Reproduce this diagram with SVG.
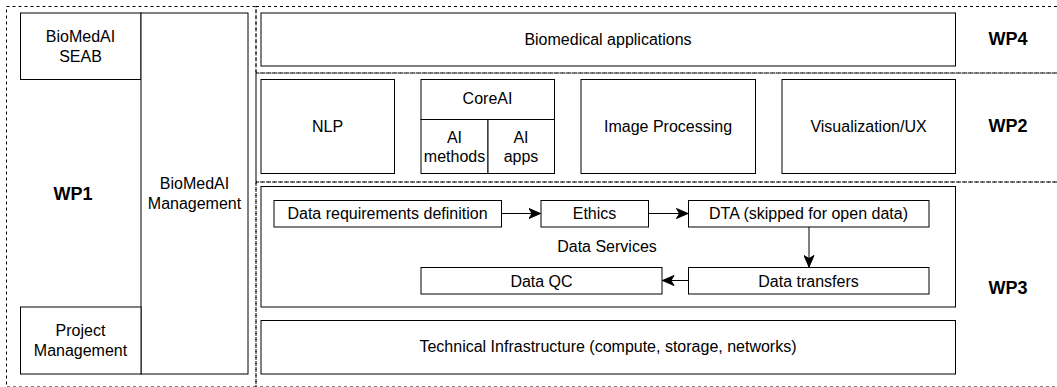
<svg xmlns="http://www.w3.org/2000/svg" width="1057" height="387" viewBox="0 0 1057 387">
<style>
.box{fill:#fff;stroke:#000;stroke-width:1}
.dash{fill:none;stroke:#000;stroke-width:1;stroke-dasharray:3 3}
.t{font-family:"Liberation Sans",Arial,Helvetica,sans-serif;font-size:16px;fill:#000;text-anchor:middle}
.wp{font-family:"Liberation Sans",Arial,Helvetica,sans-serif;font-size:18px;font-weight:bold;fill:#000;text-anchor:middle}
.conn{fill:none;stroke:#000;stroke-width:1}
</style>
<defs>
<marker id="arr" markerUnits="userSpaceOnUse" markerWidth="13" markerHeight="11" viewBox="0 0 13 11" refX="12" refY="5.5" orient="auto">
<path d="M0.5,0.5 L12,5.5 L0.5,10.5 L3.5,5.5 Z" fill="#000" stroke="#000" stroke-width="1"/>
</marker>
</defs>
<rect width="1057" height="387" fill="#fff"/>
<g id="wp-areas">
<rect class="dash" x="6.5" y="6.5" width="249.5" height="380.5"/>
<rect class="dash" x="256" y="6.5" width="810" height="66.5"/>
<rect class="dash" x="256" y="73" width="810" height="109"/>
<rect class="dash" x="256" y="182" width="810" height="205"/>
</g>
<g id="wp1">
<text class="wp" x="73" y="200">WP1</text>
</g>
<g id="seab">
<rect class="box" x="20.5" y="13" width="120.5" height="66.5"/>
<text class="t" x="80.5" y="41.7">BioMedAI</text>
<text class="t" x="80.5" y="61.7">SEAB</text>
</g>
<g id="management">
<rect class="box" x="141" y="13" width="107" height="361"/>
<text class="t" x="194.5" y="188.5">BioMedAI</text>
<text class="t" x="194.5" y="208.5">Management</text>
</g>
<g id="project-management">
<rect class="box" x="20.5" y="307" width="120.5" height="67"/>
<text class="t" x="80.5" y="335.7">Project</text>
<text class="t" x="80.5" y="355.7">Management</text>
</g>
<g id="wp4">
<text class="wp" x="1008" y="45">WP4</text>
</g>
<g id="biomedical-applications">
<rect class="box" x="261" y="13" width="694.5" height="53"/>
<text class="t" x="608" y="44.5">Biomedical applications</text>
</g>
<g id="wp2">
<text class="wp" x="1008" y="132">WP2</text>
</g>
<g id="nlp">
<rect class="box" x="261" y="79.5" width="133.5" height="94"/>
<text class="t" x="327.5" y="132">NLP</text>
</g>
<g id="coreai">
<rect class="box" x="421" y="79.5" width="133.5" height="40"/>
<text class="t" x="487.5" y="103.5">CoreAI</text>
</g>
<g id="ai-methods">
<rect class="box" x="421" y="119.5" width="67" height="54"/>
<text class="t" x="454.5" y="143">AI</text>
<text class="t" x="454.5" y="162.3">methods</text>
</g>
<g id="ai-apps">
<rect class="box" x="488" y="119.5" width="66.5" height="54"/>
<text class="t" x="521" y="143">AI</text>
<text class="t" x="521" y="162.3">apps</text>
</g>
<g id="image-processing">
<rect class="box" x="581" y="79.5" width="174.5" height="94"/>
<text class="t" x="668" y="132">Image Processing</text>
</g>
<g id="visualization">
<rect class="box" x="782" y="79.5" width="173.5" height="94"/>
<text class="t" x="868.5" y="132">Visualization/UX</text>
</g>
<g id="wp3">
<text class="wp" x="1008" y="293.5">WP3</text>
</g>
<g id="data-services">
<rect class="box" x="261" y="186.5" width="694.5" height="120.5"/>
<text class="t" x="607" y="251.7">Data Services</text>
</g>
<g id="data-requirements">
<rect class="box" x="274" y="200.5" width="227.5" height="26.5"/>
<text class="t" x="387.5" y="219.3">Data requirements definition</text>
</g>
<g id="ethics">
<rect class="box" x="541" y="200.5" width="107.5" height="26.5"/>
<text class="t" x="594.5" y="219.3">Ethics</text>
</g>
<g id="dta">
<rect class="box" x="688.5" y="200.5" width="240.5" height="26.5"/>
<text class="t" x="808.5" y="219.3">DTA (skipped for open data)</text>
</g>
<g id="data-transfers">
<rect class="box" x="688.5" y="267.5" width="240.5" height="26.5"/>
<text class="t" x="808.5" y="286.7">Data transfers</text>
</g>
<g id="data-qc">
<rect class="box" x="421" y="267.5" width="241" height="26.5"/>
<text class="t" x="541.5" y="286.7">Data QC</text>
</g>
<g id="technical-infrastructure">
<rect class="box" x="261" y="320.5" width="694.5" height="53.5"/>
<text class="t" x="608" y="351.7">Technical Infrastructure (compute, storage, networks)</text>
</g>
<g id="connectors">
<path class="conn" d="M501.5,213.5 H540.5" marker-end="url(#arr)"/>
<path class="conn" d="M648.5,213.5 H688" marker-end="url(#arr)"/>
<path class="conn" d="M809,227 V267" marker-end="url(#arr)"/>
<path class="conn" d="M688.5,280.5 H662.5" marker-end="url(#arr)"/>
</g>
</svg>
